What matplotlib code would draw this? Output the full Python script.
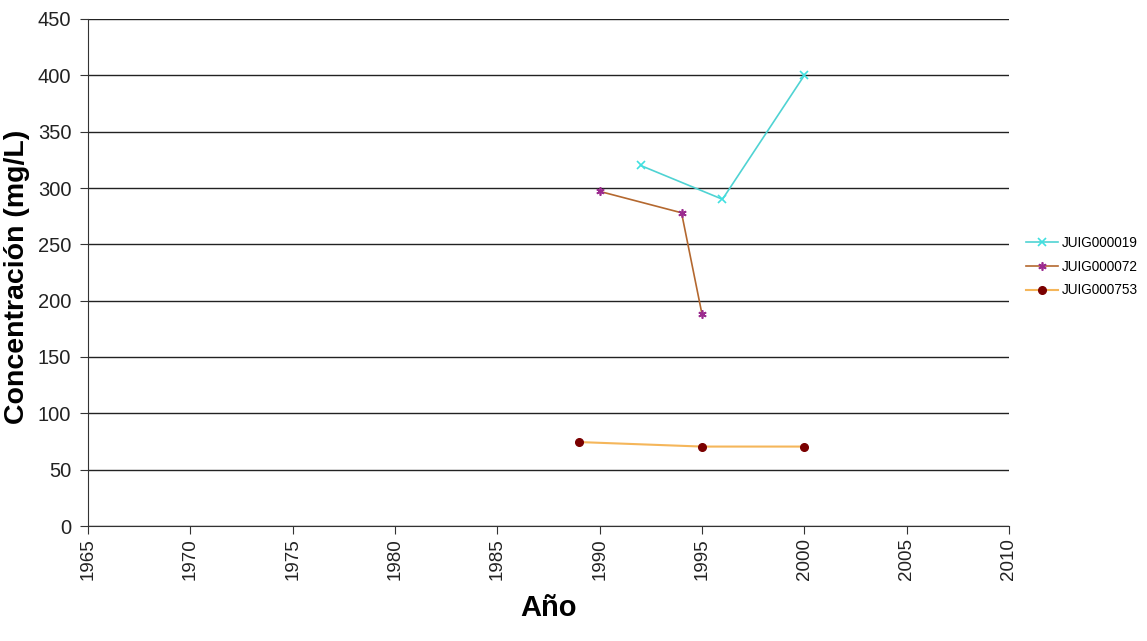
import matplotlib
matplotlib.use("Agg")
import matplotlib.pyplot as plt

plt.rcParams['font.family'] = ['Liberation Sans', 'DejaVu Sans']

years_019 = [1992, 1996, 2000]
conc_019 = [320, 290, 400]

years_072 = [1990, 1994, 1995]
conc_072 = [297, 278, 188]

years_753 = [1989, 1995, 2000]
conc_753 = [74.5, 70.5, 70.5]

x_ticks = list(range(1965, 2011, 5))
y_ticks = list(range(0, 451, 50))

W, H = 1147, 641
fig = plt.figure(figsize=(W / 100, H / 100), dpi=100)
ax = fig.add_axes([88/W, 1 - 526/H, (1009 - 88)/W, (526 - 19)/H])

ax.plot(years_019, conc_019, color='#4FD3D3', lw=1.2, marker='x', ms=6,
        mec='#40E0E0', mew=1.2, label='JUIG000019')
ax.plot(years_072, conc_072, color='#B4682F', lw=1.2, marker=(6, 2, 0), ms=6,
        mec='#9B2B8F', mew=1.2, label='JUIG000072')
ax.plot(years_753, conc_753, color='#F5B65A', lw=1.5, marker='o', ms=5.5,
        mfc='#7A0000', mec='#7A0000', label='JUIG000753')

ax.set_xlim(1965, 2010)
ax.set_ylim(0, 450)
ax.set_xticks(x_ticks)
ax.set_yticks(y_ticks)
ax.set_xticklabels([str(v) for v in x_ticks], rotation=90, fontsize=13.5)
ax.set_yticklabels([str(v) for v in y_ticks], fontsize=14.5)
ax.tick_params(direction='out', length=6, width=0.8, color='#333333', labelcolor='#222222')
ax.tick_params(axis='x', pad=3)
ax.tick_params(axis='y', pad=6)

ax.yaxis.grid(True, color='#222222', lw=1.0)
ax.set_axisbelow(True)
for side in ('top', 'right'):
    ax.spines[side].set_visible(False)
for side in ('left', 'bottom'):
    ax.spines[side].set_color('#333333')
    ax.spines[side].set_linewidth(0.8)

# Axis titles placed in figure pixels
fig.text(549/W, 1 - 608/H, 'Año', fontsize=21, fontweight='bold',
         ha='center', va='center')
fig.text(17/W, 1 - 277/H, 'Concentración (mg/L)', fontsize=20.5, fontweight='bold',
         ha='center', va='center', rotation=90)

fig.legend(loc='upper left', bbox_to_anchor=(1014/W, 1 - 224/H), frameon=False,
           fontsize=9.8, handlelength=2.3, labelspacing=0.7, handletextpad=0.3)

fig.savefig('out.png', dpi=100)
